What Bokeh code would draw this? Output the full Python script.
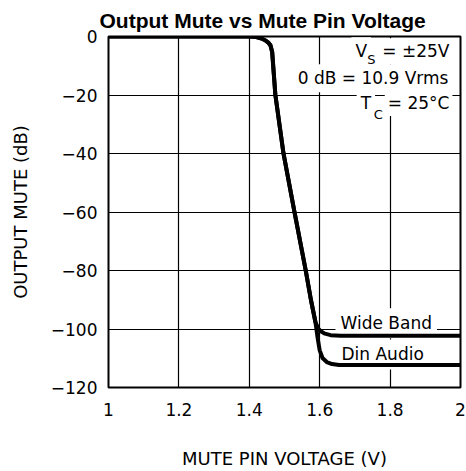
from bokeh.plotting import figure
from bokeh.models import FixedTicker, Label
from bokeh.embed import file_html
from bokeh.resources import INLINE

# ---- data ----
wide_v = [1.0, 1.40, 1.42, 1.435, 1.446, 1.455, 1.460, 1.465, 1.474, 1.497, 1.528,
          1.560, 1.575, 1.588, 1.596, 1.603, 1.615, 1.631, 1.660, 2.0]
wide_db = [0, 0, -0.2, -0.7, -1.35, -2.2, -3.0, -5.3, -19.9, -39.9, -59.8,
           -79.8, -90.0, -97.7, -99.8, -100.8, -101.6, -102.1, -102.3, -102.3]

din_v = [1.0, 1.40, 1.42, 1.435, 1.446, 1.455, 1.460, 1.465, 1.474, 1.497, 1.528,
         1.560, 1.575, 1.588, 1.594, 1.600, 1.608, 1.620, 1.635, 1.655, 2.0]
din_db = [0, 0, -0.2, -0.7, -1.35, -2.2, -3.0, -5.3, -19.9, -39.9, -59.8,
          -79.8, -90.0, -97.7, -103.0, -107.3, -109.9, -111.3, -112.0, -112.3, -112.3]

x_ticks = [1, 1.2, 1.4, 1.6, 1.8, 2]
x_tick_labels = ["1", "1.2", "1.4", "1.6", "1.8", "2"]
y_ticks = [0, -20, -40, -60, -80, -100, -120]
y_tick_labels = ["0", "\u221220", "\u221240", "\u221260", "\u221280", "\u2212100", "\u2212120"]

FONT = "DejaVu Sans"

p = figure(width=466, height=471, x_range=(1, 2), y_range=(-120, 0),
           output_backend="svg", toolbar_location=None,
           min_border_left=108, min_border_right=6, min_border_top=36,
           min_border_bottom=80,
           title="Output Mute vs Mute Pin Voltage")

p.title.text_font = "Liberation Sans"
p.title.text_font_style = "bold"
p.title.text_font_size = "21px"
p.title.align = "left"
p.title.offset = -9
p.title.standoff = 9
p.title.text_color = "black"

p.background_fill_color = "white"
p.border_fill_color = "white"
p.outline_line_color = "black"
p.outline_line_width = 2

for ax in (p.xaxis[0], p.yaxis[0]):
    ax.axis_line_color = None
    ax.major_tick_line_color = None
    ax.minor_tick_line_color = None
    ax.major_tick_out = 0
    ax.major_tick_in = 0
    ax.major_label_text_font = FONT
    ax.major_label_text_font_size = "17px"
    ax.major_label_text_color = "black"
    ax.axis_label_text_font = FONT
    ax.axis_label_text_font_size = "18px"
    ax.axis_label_text_font_style = "normal"
    ax.axis_label_text_color = "black"

p.xaxis.ticker = FixedTicker(ticks=x_ticks)
p.yaxis.ticker = FixedTicker(ticks=y_ticks)
p.xaxis.major_label_overrides = dict(zip(x_ticks, x_tick_labels))
p.yaxis.major_label_overrides = dict(zip(y_ticks, y_tick_labels))
p.xaxis.axis_label = "MUTE PIN VOLTAGE (V)"
p.yaxis.axis_label = "OUTPUT MUTE (dB)"
p.xaxis.major_label_standoff = 15
p.yaxis.major_label_standoff = 11
p.xaxis.axis_label_standoff = 29
p.yaxis.axis_label_standoff = 17

p.xgrid.ticker = FixedTicker(ticks=x_ticks)
p.ygrid.ticker = FixedTicker(ticks=y_ticks)
p.grid.grid_line_color = "black"
p.grid.grid_line_width = 1.2
p.grid.grid_line_alpha = 1.0

# ---- annotations (white background, below the curves) ----
def lab(x, y, text, size="17px", align="left", bg=True, pad=4):
    lb = Label(x=x, y=y, text=text, text_font=FONT, text_font_size=size,
               text_align=align, text_baseline="middle", text_color="black",
               background_fill_color="white" if bg else None,
               padding=pad, level="underlay")
    p.add_layout(lb)
    return lb

right_x = 1.977
lab(1.6900, -5.0, "V")
lab(right_x, -5.0, "= \u00b125V", align="right", pad=3)
lab(right_x, -14.3, "0 dB = 10.9 Vrms", align="right")
lab(1.7050, -22.7, "T")
lab(right_x, -22.7, "= 25\u00b0C", align="right", pad=3)
lab(1.7240, -8.0, "S", size="13px", bg=False)
lab(1.7420, -26.5, "C", size="13px", bg=False)

lab(1.6449, -98.0, "Wide Band", pad=5)
lab(1.6477, -108.7, "Din Audio", pad=5)

p.line(wide_v, wide_db, line_color="black", line_width=4, line_join="round")
p.line(din_v, din_db, line_color="black", line_width=4, line_join="round")

open("out.html", "w").write(file_html(p, INLINE))
